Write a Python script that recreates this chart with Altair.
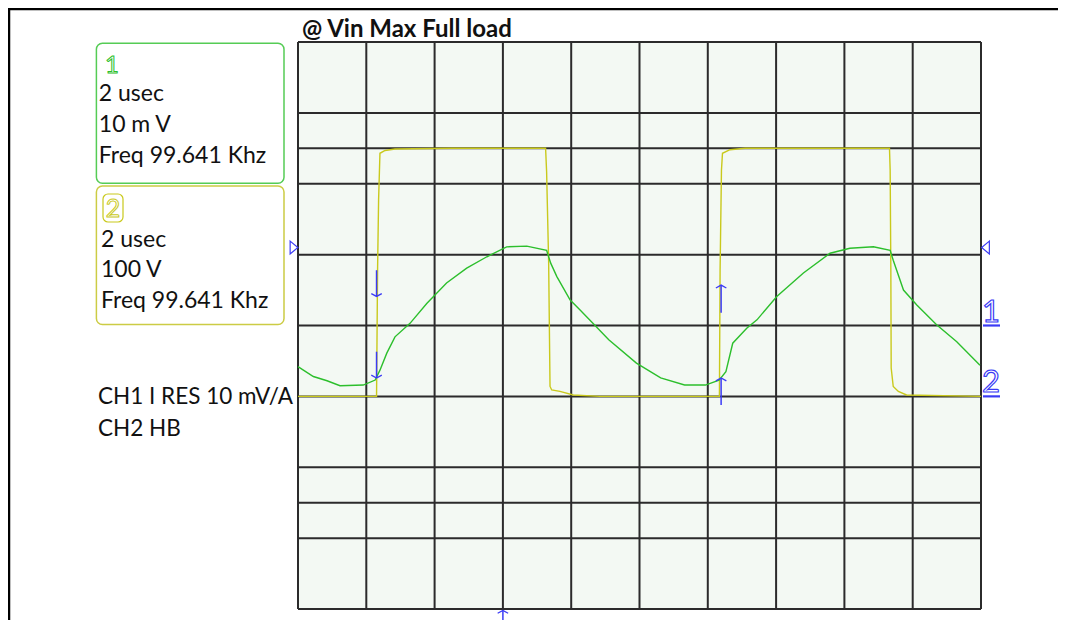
import altair as alt
import pandas as pd

# ---------------- data ----------------
# time base: 2 usec/div, 10 divisions -> 0..20 usec
t_ch1 = [0.0, 0.45, 0.85, 1.23, 1.91, 2.26, 2.40, 2.60, 2.84, 3.28, 3.77, 4.35, 4.94,
         5.53, 6.11, 6.70, 7.28, 7.40, 7.58, 7.97, 8.26, 8.60, 9.10, 9.91, 10.62, 11.32,
         11.93, 12.33, 12.53, 12.73, 13.14, 13.44, 14.02, 14.80, 15.58, 16.16, 16.85,
         17.34, 17.43, 17.73, 18.12, 18.70, 19.29, 19.97]
ch1_mv = [-5.8, -7.2, -7.8, -8.5, -8.4, -7.7, -6.3, -3.9, -1.6, 0.3, 3.1, 6.0, 8.1,
          9.7, 11.1, 11.2, 10.6, 8.8, 6.9, 3.6, 2.2, 0.5, -2.0, -5.3, -7.4, -8.4,
          -8.4, -7.7, -6.5, -2.5, -0.4, 0.8, 4.1, 7.4, 10.2, 10.9, 11.1,
          10.6, 9.2, 5.0, 2.9, 0.1, -2.3, -5.6]

t_ch2 = [0.0, 2.30, 2.33, 2.36, 2.40, 2.55, 2.84, 4.50, 7.25, 7.28, 7.34, 7.38, 7.43,
         7.67, 8.06, 8.84, 12.34, 12.36, 12.40, 12.43, 12.65, 13.09, 17.32, 17.34,
         17.36, 17.37, 17.43, 17.58, 17.82, 20.0]
ch2_v = [0, 0, 178, 277, 343, 347, 349, 350, 350, 317, 188, 14, 9,
         7, 2, 0, 0, 178, 319, 343, 348, 350, 350, 319,
         178, 40, 14, 7, 2, 0]

# channel settings (volts/div and ground position in divisions)
ch1_per_div, ch1_ground = 10.0, 4.0     # 10 mV/div
ch2_per_div, ch2_ground = 100.0, 3.0    # 100 V/div
trigger_mv = 11.0

grid_t = [0, 2, 4, 6, 8, 10, 12, 14, 16, 18, 20]
grid_div = [0, 1, 1.5, 2, 3, 4, 5, 6, 6.5, 7, 8]

# cursor arrows (time, tail level, head level in divisions)
down_t = [2.30, 2.30]
down_tail = [4.78, 3.63]
down_head = [4.41, 3.26]
up_t = [12.39, 12.39, 6.0]
up_tail = [4.18, 2.88, -0.19]
up_head = [4.57, 3.26, -0.02]

box1_lines = ["2 usec", "10 m V", "Freq 99.641 Khz"]
box2_lines = ["2 usec", "100 V", "Freq 99.641 Khz"]
notes = ["CH1 I RES 10 mV/A", "CH2 HB"]
title = "@ Vin Max Full load"

# ---------------- build ----------------
W, H = 683, 567
FONT = "Lato"
GREEN = "#2cbf2c"
YELLOW = "#c9c91c"
BLUE = "#3b3bf5"
GRID = "#2b2b2b"

xs = alt.Scale(domain=[0, 20], nice=False, zero=False)
ys = alt.Scale(domain=[0, 8], nice=False, zero=False)

df1 = pd.DataFrame({"t": t_ch1, "v": ch1_mv})
df1["d"] = df1["v"] / ch1_per_div + ch1_ground
df1["i"] = range(len(df1))
df2 = pd.DataFrame({"t": t_ch2, "v": ch2_v})
df2["d"] = df2["v"] / ch2_per_div + ch2_ground
df2["i"] = range(len(df2))

one = pd.DataFrame({"k": [0]})


def px(xp):
    return xp - 298


def py(yp):
    return yp - 42


vgrid = alt.Chart(pd.DataFrame({"t": grid_t})).mark_rule(color=GRID, strokeWidth=2).encode(
    x=alt.X("t:Q", scale=xs, axis=None))
hgrid = alt.Chart(pd.DataFrame({"d": grid_div})).mark_rule(color=GRID, strokeWidth=2).encode(
    y=alt.Y("d:Q", scale=ys, axis=None))

ch2_line = alt.Chart(df2).mark_line(color=YELLOW, strokeWidth=1.4).encode(
    x=alt.X("t:Q", scale=xs, axis=None), y=alt.Y("d:Q", scale=ys, axis=None), order="i:Q")
ch1_line = alt.Chart(df1).mark_line(color=GREEN, strokeWidth=1.4).encode(
    x=alt.X("t:Q", scale=xs, axis=None), y=alt.Y("d:Q", scale=ys, axis=None), order="i:Q")

ddf = pd.DataFrame({"t": down_t, "a": down_tail, "b": down_head})
udf = pd.DataFrame({"t": up_t, "a": up_tail, "b": up_head})
down_rule = alt.Chart(ddf).mark_rule(color=BLUE, strokeWidth=1.5).encode(
    x=alt.X("t:Q", scale=xs, axis=None), y=alt.Y("a:Q", scale=ys, axis=None), y2="b:Q")
down_head_m = alt.Chart(ddf).mark_point(shape="M-1,-0.55L0,0L1,-0.55", color=BLUE, filled=False,
                                         size=110, strokeWidth=1.3, opacity=1).encode(
    x=alt.X("t:Q", scale=xs, axis=None), y=alt.Y("b:Q", scale=ys, axis=None))
up_rule = alt.Chart(udf).mark_rule(color=BLUE, strokeWidth=1.5).encode(
    x=alt.X("t:Q", scale=xs, axis=None), y=alt.Y("a:Q", scale=ys, axis=None), y2="b:Q")
up_head_m = alt.Chart(udf).mark_point(shape="M-1,0.55L0,0L1,0.55", color=BLUE, filled=False,
                                       size=110, strokeWidth=1.3, opacity=1).encode(
    x=alt.X("t:Q", scale=xs, axis=None), y=alt.Y("b:Q", scale=ys, axis=None))

trig = pd.DataFrame({"d": [trigger_mv / ch1_per_div + ch1_ground]})
trig_left = alt.Chart(trig).mark_point(shape="M-0.6,-1L0.6,0L-0.6,1Z", filled=False, color=BLUE,
                                       size=165, strokeWidth=1.2, opacity=1).encode(
    x=alt.value(px(294)), y=alt.Y("d:Q", scale=ys, axis=None))
trig_right = alt.Chart(trig).mark_point(shape="M0.6,-1L-0.6,0L0.6,1Z", filled=False, color=BLUE,
                                        size=165, strokeWidth=1.2, opacity=1).encode(
    x=alt.value(px(985.5)), y=alt.Y("d:Q", scale=ys, axis=None))

gnd = pd.DataFrame({"d": [ch1_ground, ch2_ground], "lab": ["1", "2"]})
gnd_line = alt.Chart(gnd).mark_rule(color=BLUE, strokeWidth=2.2).encode(
    x=alt.value(px(983)), x2=alt.value(px(1000)), y=alt.Y("d:Q", scale=ys, axis=None))
gnd_text = alt.Chart(gnd).mark_text(font=FONT, fontSize=31, fill="#ffffff", stroke=BLUE,
                                    strokeWidth=1.2, align="center", baseline="alphabetic",
                                    dy=-4).encode(
    x=alt.value(px(991)), y=alt.Y("d:Q", scale=ys, axis=None), text="lab:N")


def label(txt, x, y, size=23, weight="normal", color="#111111", **kw):
    return alt.Chart(one).mark_text(text=txt, font=FONT, fontSize=size, fontWeight=weight,
                                    color=color, align="left", baseline="alphabetic", **kw).encode(
        x=alt.value(x), y=alt.value(y))


def box(x1, y1, x2, y2, color, radius=6, width=1.5):
    return alt.Chart(one).mark_rect(fill=None, stroke=color, strokeWidth=width,
                                    cornerRadius=radius).encode(
        x=alt.value(x1), x2=alt.value(x2), y=alt.value(y1), y2=alt.value(y2))


layers = [vgrid, hgrid, ch2_line, ch1_line, down_rule, down_head_m, up_rule, up_head_m,
          trig_left, trig_right, gnd_line, gnd_text]

# title
layers.append(label(title, px(302), py(36.7), size=24, weight="bold"))

# channel boxes
layers.append(box(px(96.4), py(43.3), px(284), py(183.3), "#55cc55"))
layers.append(box(px(96.4), py(186), px(284), py(324.5), "#cccc44"))
layers.append(alt.Chart(one).mark_text(text="1", font=FONT, fontSize=24, fill="#ffffff",
                                       stroke=GREEN, strokeWidth=1, align="center",
                                       baseline="alphabetic").encode(
    x=alt.value(px(112)), y=alt.value(py(72.5))))
layers.append(box(px(103), py(194), px(123), py(222), YELLOW, radius=5, width=1.2))
layers.append(alt.Chart(one).mark_text(text="2", font=FONT, fontSize=25, fill="#ffffff",
                                       stroke=YELLOW, strokeWidth=1, align="center",
                                       baseline="alphabetic").encode(
    x=alt.value(px(113)), y=alt.value(py(216.5))))

for txt, yb in zip(box1_lines, [100.7, 131.7, 163.3]):
    layers.append(label(txt, px(98.8), py(yb)))
for txt, yb in zip(box2_lines, [246.7, 277.3, 308.3]):
    layers.append(label(txt, px(101), py(yb)))
for txt, yb in zip(notes, [404, 435.7]):
    layers.append(label(txt, px(98), py(yb), size=22.5))

# outer frame
layers.append(alt.Chart(one).mark_rule(color="#000000", strokeWidth=2.5).encode(
    x=alt.value(-290), x2=alt.value(760), y=alt.value(-33)))
layers.append(alt.Chart(one).mark_rule(color="#000000", strokeWidth=2.5).encode(
    x=alt.value(-289), y=alt.value(-34), y2=alt.value(580)))

chart = alt.layer(*layers).properties(
    width=W, height=H,
    autosize=alt.AutoSizeParams(type="none"),
    padding={"left": 290, "top": 34, "right": 91, "bottom": 11},
).configure_view(fill="#f3f9f3", stroke=None)

chart.save("out.html", embed_options={"renderer": "svg", "actions": False})
